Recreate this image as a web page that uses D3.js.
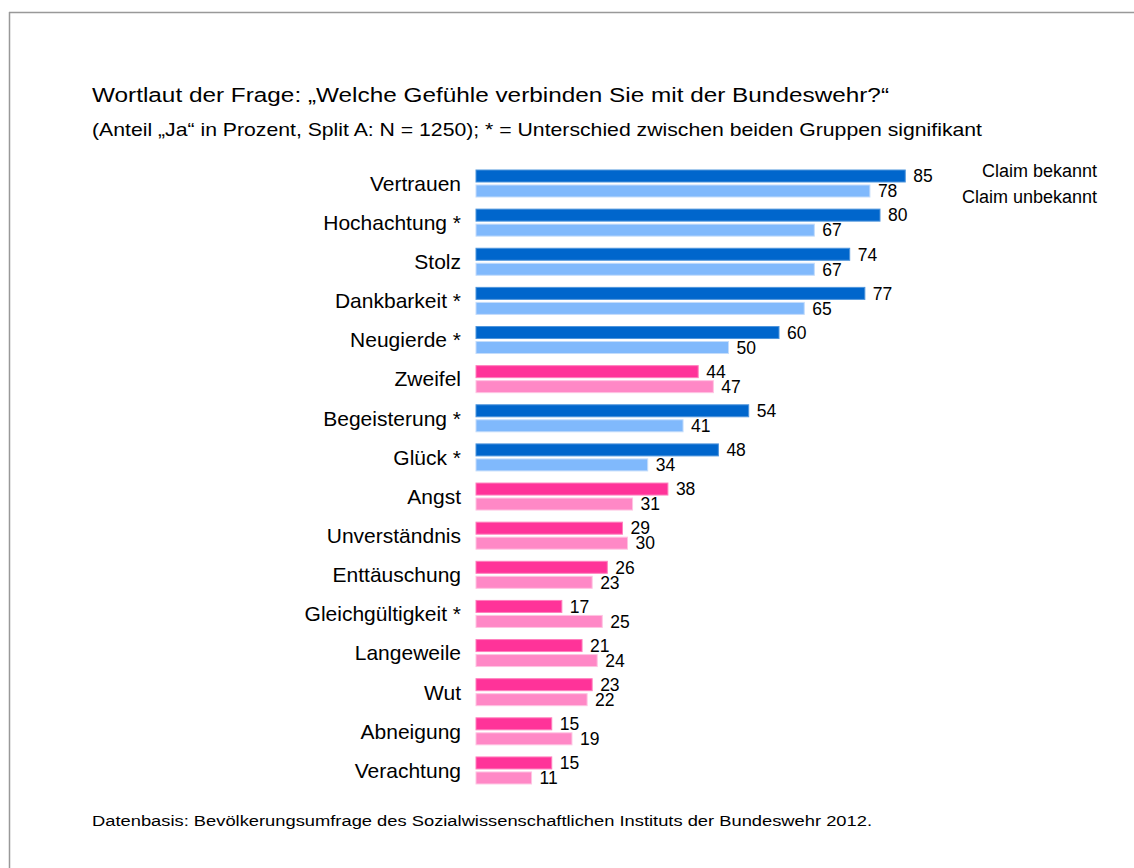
<!DOCTYPE html>
<html>
<head>
<meta charset="utf-8">
<script src="https://cdn.jsdelivr.net/npm/d3@7"></script>
<style>
  body { margin: 0; background: #fff; }
  text { font-family: "Liberation Sans", Arial, sans-serif; fill: #000; }
</style>
</head>
<body>
<script>
var categories = ["Vertrauen", "Hochachtung *", "Stolz", "Dankbarkeit *", "Neugierde *", "Zweifel",
                  "Begeisterung *", "Glück *", "Angst", "Unverständnis", "Enttäuschung",
                  "Gleichgültigkeit *", "Langeweile", "Wut", "Abneigung", "Verachtung"];
var bekannt   = [85, 80, 74, 77, 60, 44, 54, 48, 38, 29, 26, 17, 21, 23, 15, 15];
var unbekannt = [78, 67, 67, 65, 50, 47, 41, 34, 31, 30, 23, 25, 24, 22, 19, 11];
// positive (blue) or negative (pink) feeling
var tone = ["pos", "pos", "pos", "pos", "pos", "neg", "pos", "pos", "neg", "neg", "neg",
            "neg", "neg", "neg", "neg", "neg"];
var seriesNames = ["Claim bekannt", "Claim unbekannt"];

var width = 1134,
    height = 868;

var colors = {
    pos: ["#0066cc", "#80b9fc"],
    neg: ["#ff3399", "#ff88c6"]
};
var edges = {
    pos: ["#4f95dc", "#c3dcfb"],
    neg: ["#ff7fbd", "#ffc4e2"]
};

var svg = d3.select("body").append("svg")
    .attr("width", width)
    .attr("height", height);

// frame lines (top and left)
svg.append("line")
    .attr("x1", 9).attr("x2", width).attr("y1", 12.5).attr("y2", 12.5)
    .style("stroke", "#999").style("stroke-width", 1.5);
svg.append("line")
    .attr("x1", 9.5).attr("x2", 9.5).attr("y1", 12).attr("y2", height)
    .style("stroke", "#999").style("stroke-width", 1.5);

// titles (the source draws these lines a bit wider than the plain font)
svg.append("text")
    .attr("x", 92).attr("y", 102)
    .attr("font-size", "20.5px")
    .attr("textLength", 797)
    .attr("lengthAdjust", "spacingAndGlyphs")
    .text("Wortlaut der Frage: „Welche Gefühle verbinden Sie mit der Bundeswehr?“");
svg.append("text")
    .attr("x", 92).attr("y", 136)
    .attr("font-size", "18.5px")
    .attr("textLength", 890)
    .attr("lengthAdjust", "spacingAndGlyphs")
    .text("(Anteil „Ja“ in Prozent, Split A: N = 1250); * = Unterschied zwischen beiden Gruppen signifikant");

var data = categories.map(function(c, i) {
    return {cat: c, tone: tone[i], values: [bekannt[i], unbekannt[i]]};
});

var x = d3.scaleLinear()
    .domain([0, 100])
    .range([476, 981]);

var step = 39.13;
var y0 = d3.scaleBand()
    .domain(categories)
    .range([170, 170 + step * categories.length]);

var y1 = d3.scaleBand()
    .domain([0, 1])
    .range([0, 27])
    .paddingInner(0.2);

var rows = svg.append("g").selectAll("g")
    .data(data)
    .enter().append("g")
        .attr("transform", function(d) { return "translate(0," + y0(d.cat) + ")"; });

// category labels
rows.append("text")
    .attr("x", 461)
    .attr("y", 13.5)
    .attr("dy", "0.35em")
    .attr("text-anchor", "end")
    .attr("font-size", "21px")
    .text(function(d) { return d.cat; });

var bars = rows.selectAll("g.bar")
    .data(function(d) {
        return d.values.map(function(v, j) { return {v: v, j: j, tone: d.tone}; });
    })
    .enter().append("g")
        .attr("class", "bar");

bars.append("rect")
    .attr("x", x(0))
    .attr("y", function(d) { return y1(d.j); })
    .attr("width", function(d) { return x(d.v) - x(0); })
    .attr("height", y1.bandwidth())
    .style("fill", function(d) { return colors[d.tone][d.j]; })
    .style("stroke", function(d) { return edges[d.tone][d.j]; })
    .style("stroke-width", 1);

bars.append("text")
    .attr("x", function(d) { return x(d.v) + 8; })
    .attr("y", function(d) { return y1(d.j) + y1.bandwidth() / 2; })
    .attr("dy", "0.36em")
    .attr("font-size", "17.5px")
    .text(function(d) { return d.v; });

// legend
svg.append("g").selectAll("text")
    .data(seriesNames)
    .enter().append("text")
        .attr("x", 1097)
        .attr("y", function(d, i) { return 171 + i * 26; })
        .attr("dy", "0.35em")
        .attr("text-anchor", "end")
        .attr("font-size", "18px")
        .text(function(d) { return d; });

// source
svg.append("text")
    .attr("x", 92).attr("y", 826)
    .attr("font-size", "15.5px")
    .attr("textLength", 780)
    .attr("lengthAdjust", "spacingAndGlyphs")
    .text("Datenbasis: Bevölkerungsumfrage des Sozialwissenschaftlichen Instituts der Bundeswehr 2012.");
</script>
</body>
</html>
